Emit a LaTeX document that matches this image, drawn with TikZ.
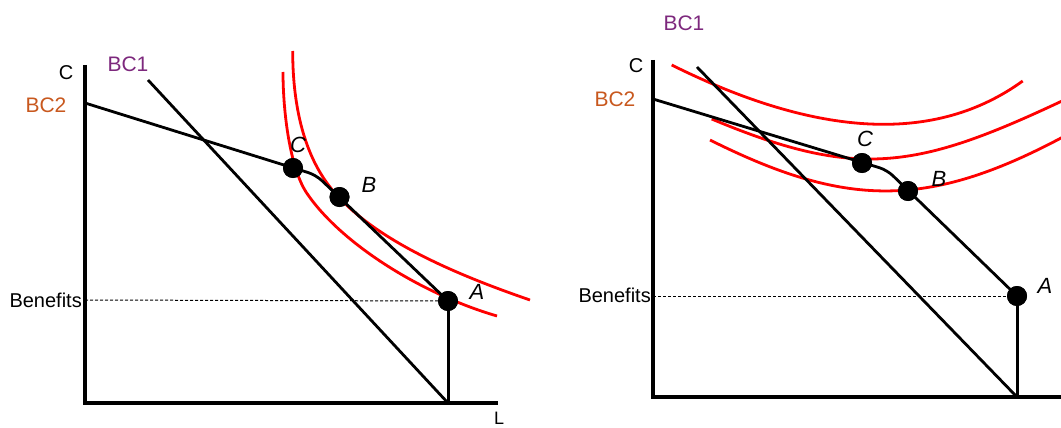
\documentclass[tikz,border=0pt]{standalone}
\usepackage{fontspec}
\setmainfont{Liberation Sans}
\definecolor{bcpurple}{RGB}{125,40,125}
\definecolor{bcorange}{RGB}{200,88,30}
\begin{document}
\begin{tikzpicture}[x=1pt,y=-1pt,
  axisline/.style={line width=3.2pt,black},
  budget/.style={line width=2.8pt,black},
  stem/.style={line width=3pt,black},
  icurve/.style={line width=2.8pt,red},
  guide/.style={line width=1pt,dash pattern=on 3pt off 2pt},
  dotpt/.style={circle,fill=black,inner sep=0pt,minimum size=20pt},
  lab/.style={font=\fontsize{20}{24}\selectfont,inner sep=0pt},
  ptlab/.style={font=\fontsize{22}{26}\selectfont\itshape,inner sep=0pt},
  bclab/.style={font=\fontsize{21}{25}\selectfont,inner sep=0pt}]
\useasboundingbox (0,0) rectangle (1061,428);

% ---------------- left panel ----------------
\coordinate (Ltop) at (85,65);
\coordinate (Lorig) at (85,403);
\coordinate (Lxend) at (498,403);
\coordinate (Lbc2s) at (85,103);
\coordinate (Lkink) at (316,175);
\coordinate (Lbc1s) at (148,80);
\coordinate (Lbc1e) at (448,403);
\coordinate (Lben) at (85,300);
\coordinate (LAfoot) at (448.2,403);
\coordinate (LAtop) at (448.2,301);

\draw[icurve] (283,72) .. controls (283,112) and (289.9,168) .. (306.7,193)
  .. controls (340.3,242.8) and (420.2,293.6) .. (497,316);
\draw[icurve] (292.7,51) .. controls (292.7,101) and (302.1,151.4) .. (330,187)
  .. controls (370.3,238.4) and (454.3,274) .. (530,300);

\node[dotpt] (LC) at (293,168) {};
\node[dotpt] (LB) at (339.5,197) {};
\node[dotpt] (LA) at (448,301) {};

\draw[guide] (Lben) -- (LA.center);
\draw[axisline] (Ltop) -- (Lorig) -- (Lxend);
\draw[budget] (Lbc1s) -- (Lbc1e);
\draw[budget,rounded corners=8pt] (Lbc2s) -- (Lkink) -- (LA.center);
\draw[stem] (LAfoot) -- (LAtop);
\node[dotpt] at (LC) {};
\node[dotpt] at (LB) {};
\node[dotpt] at (LA) {};

\node[lab] (LCax) at (66,73) {C};
\node[bclab,text=bcpurple] (LBC1) at (128,64) {BC1};
\node[bclab,text=bcorange] (LBC2) at (46,105) {BC2};
\node[lab,anchor=east] (Lbenlab) at (82,300) {Benefits};
\node[ptlab] (LClab) at (298,145) {C};
\node[ptlab] (LBlab) at (369,185) {B};
\node[ptlab] (LAlab) at (477,291.5) {A};
\node[font=\fontsize{18}{20}\selectfont,anchor=north west,inner sep=0pt] (LLlab) at (494,412) {L};

% ---------------- right panel ----------------
\coordinate (Rtop) at (653,60);
\coordinate (Rorig) at (653,397);
\coordinate (Rxend) at (1065,397);
\coordinate (Rbc2s) at (653,99);
\coordinate (Rkink) at (887,170);
\coordinate (Rbc1s) at (697,67);
\coordinate (Rbc1e) at (1017,397);
\coordinate (Rben) at (653,296);
\coordinate (RAfoot) at (1017.2,397);
\coordinate (RAtop) at (1017.2,296);

\draw[icurve] (671.7,65) .. controls (819.1,138.3) and (936.1,143.7) .. (1022.7,81);
\draw[icurve] (711.7,119) .. controls (856.7,179.9) and (917,169.2) .. (1062,101);
\draw[icurve] (710,140) .. controls (845,207.5) and (927,209.2) .. (1062,137.5);

\node[dotpt] (RC) at (862,163) {};
\node[dotpt] (RB) at (908,191) {};
\node[dotpt] (RA) at (1017,296) {};

\draw[guide] (Rben) -- (RA.center);
\draw[axisline] (Rtop) -- (Rorig) -- (Rxend);
\draw[budget] (Rbc1s) -- (Rbc1e);
\draw[budget,rounded corners=8pt] (Rbc2s) -- (Rkink) -- (RA.center);
\draw[stem] (RAfoot) -- (RAtop);
\node[dotpt] at (RC) {};
\node[dotpt] at (RB) {};
\node[dotpt] at (RA) {};

\node[lab] (RCax) at (636,66) {C};
\node[bclab,text=bcpurple] (RBC1) at (684,23) {BC1};
\node[bclab,text=bcorange] (RBC2) at (615,99) {BC2};
\node[lab,anchor=east] (Rbenlab) at (651,295) {Benefits};
\node[ptlab] (RClab) at (865,139) {C};
\node[ptlab] (RBlab) at (939,179) {B};
\node[ptlab] (RAlab) at (1045,286) {A};
\end{tikzpicture}
\end{document}
